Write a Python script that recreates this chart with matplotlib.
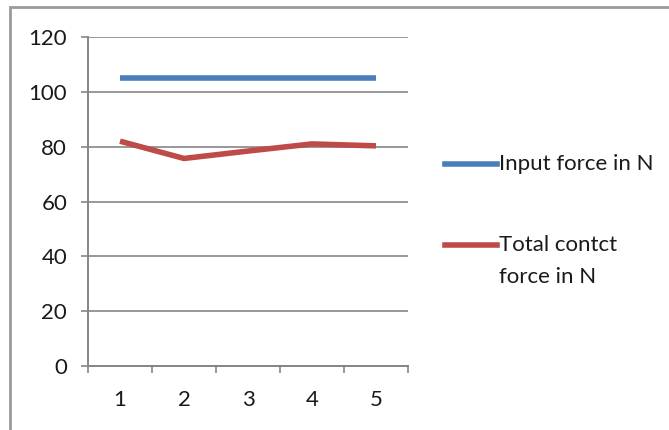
import matplotlib
matplotlib.use("Agg")
import matplotlib.pyplot as plt
from matplotlib.lines import Line2D
from matplotlib.patches import Rectangle

categories = ["1", "2", "3", "4", "5"]
input_force = [105, 105, 105, 105, 105]
contact_force = [82, 75.7, 78.4, 81, 80.3]
series_labels = ["Input force in N", "Total contct\nforce in N"]
colors = ["#4A7EBB", "#BE4B48"]

plt.rcParams['font.family'] = ['Lato', 'DejaVu Sans']

W, H = 669, 430
FS = 16
fig = plt.figure(figsize=(W / 100, H / 100), dpi=100)
ax = fig.add_axes([88 / W, (H - 366) / H, (408 - 88) / W, (366 - 37) / H])

x = list(range(1, len(categories) + 1))
ax.plot(x, input_force, color=colors[0], lw=4, solid_capstyle='butt', zorder=3)
ax.plot(x, contact_force, color=colors[1], lw=4, solid_capstyle='butt',
        solid_joinstyle='miter', zorder=3)

ax.set_xlim(0.5, len(categories) + 0.5)
ax.set_ylim(0, 120)
ax.set_yticks(range(0, 121, 20))
ax.set_xticks(x)
ax.set_xticklabels(categories)
ax.set_xticks([i + 0.5 for i in range(0, len(categories) + 1)], minor=True)
ax.tick_params(axis='x', which='major', length=0, pad=17, labelsize=FS, colors='#1a1a1a')
ax.tick_params(axis='x', which='minor', length=5, width=1.2, color='#868686', direction='out')
ax.tick_params(axis='y', length=5, width=1.2, color='#868686', labelsize=FS, pad=10,
               labelcolor='#1a1a1a')
ax.yaxis.grid(True, color='#868686', lw=1.2)
ax.set_axisbelow(True)
for s in ['top', 'right']:
    ax.spines[s].set_visible(False)
for s in ['left', 'bottom']:
    ax.spines[s].set_color('#868686')
    ax.spines[s].set_linewidth(1.4)

# legend drawn manually
leg_y = [164, 245]
for lab, col, yy in zip(series_labels, colors, leg_y):
    yf = (H - yy) / H
    fig.add_artist(Line2D([445 / W, 497 / W], [yf, yf], color=col, lw=4,
                          transform=fig.transFigure))
    for k, ln in enumerate(lab.split('\n')):
        fig.text(499 / W, (H - (yy + 32 * k)) / H, ln, fontsize=FS,
                 va='center', ha='left', color='#1a1a1a')

# outer frame
fig.add_artist(Rectangle((10 / W, -0.1), 1.2, (H - 7) / H + 0.1, fill=False,
                         ec='#9a9a9a', lw=2, transform=fig.transFigure))

fig.savefig("out.png", dpi=100)
